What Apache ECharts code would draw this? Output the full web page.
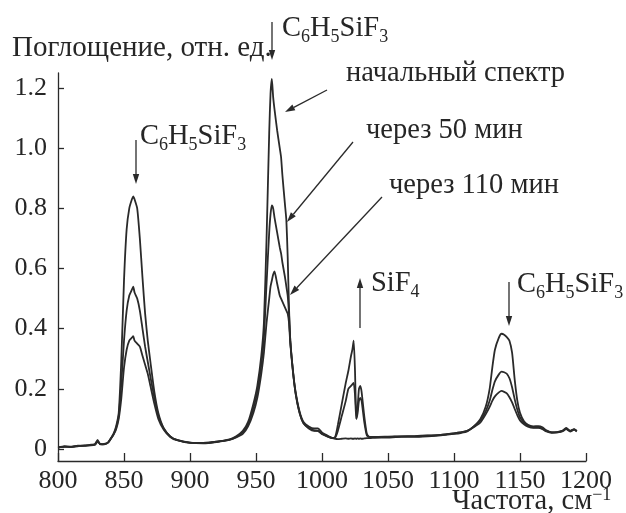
<!DOCTYPE html>
<html><head><meta charset="utf-8">
<script src="https://cdn.jsdelivr.net/npm/echarts@6/dist/echarts.min.js"></script>
<style>html,body{margin:0;padding:0;background:#fff}#c{width:626px;height:513px}</style>
</head><body><div id="c"></div>
<script>
// Frequencies, cm^-1
const freq = [
  800, 805, 810, 815, 820, 825, 828, 830, 832, 835, 838,
  840, 842, 844, 846, 848, 850, 852, 854, 856, 857, 858, 860, 862, 864, 866, 868, 870, 873, 876, 880, 885,
  890, 900, 910, 920, 930, 935, 940, 944, 948,
  951, 954, 956, 958, 960, 961, 962, 963, 964, 966, 968, 969, 970, 972, 973, 974, 975, 976, 978, 980, 983, 986, 990, 994, 997, 1000, 1004, 1008,
  1010, 1012, 1015, 1018, 1020, 1022, 1023, 1024, 1025, 1026, 1027, 1028, 1029, 1030, 1032, 1034, 1036,
  1040, 1050, 1060, 1070, 1080, 1090, 1100, 1105, 1110,
  1115, 1120, 1124, 1127, 1129, 1131, 1134, 1136, 1138, 1140, 1142, 1144, 1146, 1148, 1150, 1153, 1156, 1160, 1164, 1167, 1170, 1174, 1178, 1182, 1185, 1188, 1191, 1193
];
// начальный спектр
const initialSpectrum = [
  0.005, 0.008, 0.006, 0.010, 0.011, 0.013, 0.016, 0.030, 0.015, 0.016, 0.022,
  0.035, 0.050, 0.075, 0.120, 0.300, 0.560, 0.730, 0.800, 0.830, 0.840, 0.830, 0.800, 0.700, 0.570, 0.450, 0.360, 0.290, 0.190, 0.120, 0.070, 0.042,
  0.030, 0.020, 0.020, 0.024, 0.032, 0.042, 0.060, 0.090, 0.150,
  0.210, 0.310, 0.420, 0.700, 1.050, 1.180, 1.230, 1.170, 1.130, 1.060, 1.000, 0.970, 0.910, 0.810, 0.760, 0.640, 0.470, 0.360, 0.260, 0.190, 0.125, 0.090, 0.075, 0.068, 0.068, 0.055, 0.045, 0.036,
  0.034, 0.033, 0.034, 0.035, 0.034, 0.035, 0.034, 0.034, 0.035, 0.034, 0.035, 0.034, 0.035, 0.034, 0.035, 0.036, 0.036,
  0.037, 0.038, 0.040, 0.040, 0.042, 0.045, 0.050, 0.053, 0.058,
  0.075, 0.100, 0.140, 0.200, 0.270, 0.330, 0.370, 0.383, 0.380, 0.372, 0.360, 0.320, 0.230, 0.160, 0.120, 0.092, 0.080, 0.075, 0.076, 0.072, 0.062, 0.055, 0.055, 0.060, 0.070, 0.060, 0.066, 0.060
];
// через 50 мин
const after50 = [
  0.006, 0.007, 0.008, 0.009, 0.012, 0.012, 0.015, 0.026, 0.016, 0.017, 0.022,
  0.034, 0.048, 0.070, 0.110, 0.220, 0.360, 0.460, 0.510, 0.530, 0.540, 0.520, 0.500, 0.460, 0.400, 0.340, 0.290, 0.240, 0.170, 0.110, 0.068, 0.042,
  0.030, 0.021, 0.020, 0.024, 0.031, 0.040, 0.056, 0.082, 0.135,
  0.190, 0.280, 0.370, 0.550, 0.720, 0.780, 0.810, 0.800, 0.770, 0.720, 0.670, 0.650, 0.620, 0.570, 0.540, 0.510, 0.450, 0.360, 0.260, 0.185, 0.120, 0.085, 0.070, 0.062, 0.060, 0.050, 0.042, 0.036,
  0.038, 0.060, 0.110, 0.160, 0.200, 0.210, 0.215, 0.220, 0.180, 0.100, 0.120, 0.160, 0.170, 0.160, 0.090, 0.045, 0.040,
  0.040, 0.040, 0.042, 0.042, 0.044, 0.047, 0.052, 0.055, 0.060,
  0.075, 0.095, 0.125, 0.160, 0.195, 0.225, 0.248, 0.257, 0.255, 0.250, 0.235, 0.205, 0.165, 0.130, 0.105, 0.088, 0.078, 0.072, 0.072, 0.068, 0.060, 0.055, 0.056, 0.060, 0.068, 0.060, 0.065, 0.060
];
// через 110 мин
const after110 = [
  0.004, 0.009, 0.007, 0.011, 0.010, 0.014, 0.014, 0.024, 0.017, 0.015, 0.021,
  0.034, 0.047, 0.065, 0.100, 0.170, 0.270, 0.330, 0.360, 0.370, 0.375, 0.360, 0.350, 0.340, 0.310, 0.280, 0.250, 0.210, 0.150, 0.100, 0.065, 0.040,
  0.029, 0.021, 0.019, 0.023, 0.030, 0.038, 0.050, 0.075, 0.120,
  0.170, 0.250, 0.320, 0.420, 0.500, 0.540, 0.560, 0.580, 0.590, 0.550, 0.510, 0.500, 0.490, 0.470, 0.460, 0.450, 0.420, 0.350, 0.255, 0.185, 0.120, 0.085, 0.068, 0.060, 0.060, 0.050, 0.042, 0.036,
  0.040, 0.080, 0.150, 0.220, 0.260, 0.310, 0.330, 0.360, 0.260, 0.100, 0.140, 0.200, 0.210, 0.190, 0.110, 0.050, 0.040,
  0.040, 0.041, 0.042, 0.043, 0.045, 0.047, 0.052, 0.055, 0.060,
  0.072, 0.088, 0.115, 0.140, 0.160, 0.175, 0.188, 0.193, 0.190, 0.185, 0.172, 0.155, 0.133, 0.112, 0.095, 0.082, 0.074, 0.070, 0.070, 0.066, 0.058, 0.054, 0.055, 0.058, 0.066, 0.058, 0.064, 0.058
];
const seriesNames = ['начальный спектр', 'через 50 мин', 'через 110 мин'];
const yTickValues = [0, 0.2, 0.4, 0.6, 0.8, 1.0, 1.2];
const yAxisTitle = 'Поглощение, отн. ед.';

const FONT = 'Liberation Serif';
const INK = '#262626';
const LINE = '#2a2a2a';
const TS = 28.5; // annotation text size
const SS = 18;   // sub/superscript size

function pairs(ys) { return freq.map((f, i) => [f, ys[i]]); }

function arrow(x1, y1, x2, y2) {
  const dx = x2 - x1, dy = y2 - y1, L = Math.hypot(dx, dy);
  const ux = dx / L, uy = dy / L, hl = 10, hw = 3.2;
  const bx = x2 - ux * hl, by = y2 - uy * hl;
  return [
    { type: 'line', silent: true, shape: { x1, y1, x2: bx, y2: by }, style: { stroke: LINE, lineWidth: 1.3 } },
    { type: 'polygon', silent: true, shape: { points: [[x2, y2], [bx - uy * hw, by + ux * hw], [bx + uy * hw, by - ux * hw]] }, style: { fill: LINE } }
  ];
}
function txt(x, y, text, rich, size) {
  return { type: 'text', silent: true, x, y, style: { text, fill: INK, fontFamily: FONT, fontSize: size || TS, verticalAlign: 'middle', align: 'left', rich: rich || undefined } };
}
const subRich = {
  m: { fontSize: TS, fontFamily: FONT, fill: INK, lineHeight: 34, verticalAlign: 'middle' },
  s: { fontSize: SS, fontFamily: FONT, fill: INK, lineHeight: 16, verticalAlign: 'bottom' }
};
const formula = '{m|C}{s|6}{m|H}{s|5}{m|SiF}{s|3}';
const supRich = {
  m: { fontSize: TS, fontFamily: FONT, fill: INK, lineHeight: 32, verticalAlign: 'middle' },
  p: { fontSize: SS, fontFamily: FONT, fill: INK, lineHeight: 15, verticalAlign: 'top' }
};

const chart = echarts.init(document.getElementById('c'), null, { renderer: 'canvas' });
const graphics = [].concat(
  [txt(12, 48, yAxisTitle, null, 29)],
  [txt(282, 29, formula, subRich)],
  arrow(272, 22, 272, 60),
  [txt(346, 74, seriesNames[0])],
  arrow(327, 90, 285, 112),
  [txt(366, 131, seriesNames[1])],
  arrow(353, 142, 287, 222),
  [txt(389, 186, seriesNames[2])],
  arrow(382, 197, 290, 295),
  [txt(140, 137, formula, subRich)],
  arrow(136, 140, 136, 184),
  [txt(371, 284, '{m|SiF}{s|4}', subRich)],
  arrow(360, 328, 360, 278),
  [txt(517, 285, formula, subRich)],
  arrow(509, 282, 509, 326),
  [txt(452, 502, '{m|Частота, см}{p|−1}', supRich)]
);

chart.setOption({
  animation: false,
  backgroundColor: '#fff',
  textStyle: { fontFamily: FONT },
  grid: { left: 58, right: 40, top: 73, bottom: 52, containLabel: false },
  xAxis: {
    type: 'value', min: 800, max: 1200, interval: 50,
    axisLine: { show: true, onZero: false, lineStyle: { color: LINE, width: 1.3 } },
    axisTick: { show: true, inside: true, length: 8, lineStyle: { color: LINE, width: 1.3 } },
    axisLabel: { show: true, color: INK, fontFamily: FONT, fontSize: 26, margin: 7, formatter: v => String(v) },
    splitLine: { show: false }
  },
  yAxis: {
    type: 'value', min: -0.04, max: 1.25,
    axisLine: { show: true, onZero: false, lineStyle: { color: LINE, width: 1.3 } },
    axisTick: { show: true, inside: true, length: 6, customValues: yTickValues, lineStyle: { color: LINE, width: 1.3 } },
    axisLabel: { show: true, color: INK, fontFamily: FONT, fontSize: 26, margin: 11, customValues: yTickValues,
      formatter: v => (Math.abs(v) < 1e-9 ? '0' : v.toFixed(1)) },
    splitLine: { show: false }
  },
  series: [
    { name: seriesNames[0], type: 'line', data: pairs(initialSpectrum) },
    { name: seriesNames[1], type: 'line', data: pairs(after50) },
    { name: seriesNames[2], type: 'line', data: pairs(after110) }
  ].map(s => Object.assign(s, { showSymbol: false, symbol: 'none', smooth: 0.2, lineStyle: { color: LINE, width: 1.8 }, itemStyle: { color: LINE } })),
  graphic: graphics
});
</script>
</body></html>
